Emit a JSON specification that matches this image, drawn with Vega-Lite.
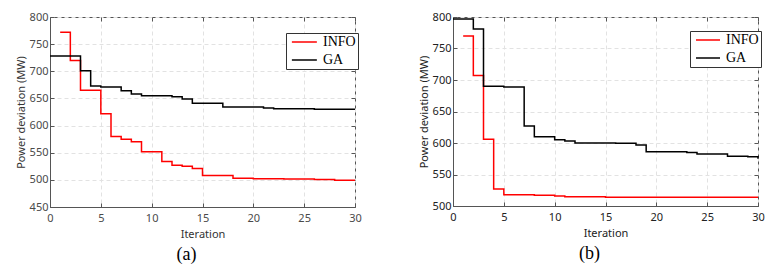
{
  "$schema": "https://vega.github.io/schema/vega-lite/v6.json",
  "background": "white",
  "padding": {"left": 14, "top": 10, "right": 5, "bottom": 5},
  "spacing": 55,
  "datasets": {
    "a": [
      {"iter": 1, "dev": 772, "alg": "INFO"},
      {"iter": 2, "dev": 720, "alg": "INFO"},
      {"iter": 3, "dev": 665, "alg": "INFO"},
      {"iter": 5, "dev": 622, "alg": "INFO"},
      {"iter": 6, "dev": 580, "alg": "INFO"},
      {"iter": 7, "dev": 575, "alg": "INFO"},
      {"iter": 8, "dev": 570, "alg": "INFO"},
      {"iter": 9, "dev": 552, "alg": "INFO"},
      {"iter": 11, "dev": 534, "alg": "INFO"},
      {"iter": 12, "dev": 527, "alg": "INFO"},
      {"iter": 13, "dev": 525, "alg": "INFO"},
      {"iter": 14, "dev": 521, "alg": "INFO"},
      {"iter": 15, "dev": 508, "alg": "INFO"},
      {"iter": 18, "dev": 503, "alg": "INFO"},
      {"iter": 20, "dev": 502, "alg": "INFO"},
      {"iter": 23, "dev": 501.5, "alg": "INFO"},
      {"iter": 26, "dev": 500.5, "alg": "INFO"},
      {"iter": 28, "dev": 499.5, "alg": "INFO"},
      {"iter": 30, "dev": 499.5, "alg": "INFO"},
      {"iter": 0, "dev": 728, "alg": "GA"},
      {"iter": 3, "dev": 701, "alg": "GA"},
      {"iter": 4, "dev": 673, "alg": "GA"},
      {"iter": 5, "dev": 671, "alg": "GA"},
      {"iter": 7, "dev": 664, "alg": "GA"},
      {"iter": 8, "dev": 658, "alg": "GA"},
      {"iter": 9, "dev": 655, "alg": "GA"},
      {"iter": 12, "dev": 653, "alg": "GA"},
      {"iter": 13, "dev": 649, "alg": "GA"},
      {"iter": 14, "dev": 641, "alg": "GA"},
      {"iter": 17, "dev": 634, "alg": "GA"},
      {"iter": 21, "dev": 632.5, "alg": "GA"},
      {"iter": 22, "dev": 631, "alg": "GA"},
      {"iter": 26, "dev": 630, "alg": "GA"},
      {"iter": 30, "dev": 630, "alg": "GA"}
    ],
    "b": [
      {"iter": 1, "dev": 770, "alg": "INFO"},
      {"iter": 2, "dev": 707, "alg": "INFO"},
      {"iter": 3, "dev": 606, "alg": "INFO"},
      {"iter": 4, "dev": 527, "alg": "INFO"},
      {"iter": 5, "dev": 518, "alg": "INFO"},
      {"iter": 8, "dev": 517, "alg": "INFO"},
      {"iter": 10, "dev": 516, "alg": "INFO"},
      {"iter": 11, "dev": 514.5, "alg": "INFO"},
      {"iter": 15, "dev": 514, "alg": "INFO"},
      {"iter": 30, "dev": 514, "alg": "INFO"},
      {"iter": 0, "dev": 797, "alg": "GA"},
      {"iter": 2, "dev": 781, "alg": "GA"},
      {"iter": 3, "dev": 690, "alg": "GA"},
      {"iter": 5, "dev": 689, "alg": "GA"},
      {"iter": 7, "dev": 627, "alg": "GA"},
      {"iter": 8, "dev": 610, "alg": "GA"},
      {"iter": 10, "dev": 605, "alg": "GA"},
      {"iter": 11, "dev": 603, "alg": "GA"},
      {"iter": 12, "dev": 600, "alg": "GA"},
      {"iter": 16, "dev": 599.5, "alg": "GA"},
      {"iter": 18, "dev": 597, "alg": "GA"},
      {"iter": 19, "dev": 586, "alg": "GA"},
      {"iter": 23, "dev": 585, "alg": "GA"},
      {"iter": 24, "dev": 582.5, "alg": "GA"},
      {"iter": 27, "dev": 579, "alg": "GA"},
      {"iter": 29, "dev": 578, "alg": "GA"},
      {"iter": 30, "dev": 575, "alg": "GA"}
    ]
  },
  "hconcat": [
    {
      "width": 305,
      "height": 190,
      "data": {"name": "a"},
      "title": {"text": "(a)", "orient": "bottom", "dx": -16, "offset": 7},
      "layer": [
        {
          "mark": {"type": "line", "interpolate": "step-after", "strokeWidth": 1.5},
          "encoding": {
            "x": {"field": "iter", "type": "quantitative", "scale": {"domain": [0, 30], "nice": false},
                  "axis": {"title": "Iteration", "values": [0, 5, 10, 15, 20, 25, 30], "tickSize": -4, "labelPadding": 9, "titlePadding": 5}},
            "y": {"field": "dev", "type": "quantitative", "scale": {"domain": [450, 800], "nice": false, "zero": false},
                  "axis": {"title": "Power deviation (MW)", "values": [450, 500, 550, 600, 650, 700, 750, 800], "tickSize": -4, "labelPadding": 6, "titlePadding": 3}},
            "color": {"field": "alg", "type": "nominal", "scale": {"domain": ["INFO", "GA"], "range": ["#ff0000", "#000000"]},
                      "legend": {"orient": "none", "legendX": 236, "legendY": 16, "title": null, "symbolType": "M-1,0H7", "symbolSize": 39, "symbolStrokeWidth": 1.5, "strokeColor": "#333", "fillColor": "white", "padding": 2, "labelFont": "Liberation Serif", "labelFontSize": 14, "labelColor": "#000", "labelOffset": 21, "rowPadding": 4, "labelExpr": "datum.label + '\u00a0\u00a0'"}}
          }
        },
        {
          "mark": {"type": "line", "opacity": 0},
          "encoding": {
            "x": {"field": "iter", "type": "quantitative", "axis": {"orient": "top", "labels": false, "grid": false, "title": null, "tickSize": -4, "domain": false, "values": [0, 5, 10, 15, 20, 25, 30]}},
            "y": {"field": "dev", "type": "quantitative", "axis": {"orient": "right", "labels": false, "grid": false, "title": null, "tickSize": -4, "domain": false, "values": [450, 500, 550, 600, 650, 700, 750, 800]}}
          }
        }
      ],
      "resolve": {"axis": {"x": "independent", "y": "independent"}}
    },
    {
      "width": 305,
      "height": 189,
      "data": {"name": "b"},
      "title": {"text": "(b)", "orient": "bottom", "dx": -16, "offset": 7},
      "layer": [
        {
          "mark": {"type": "line", "interpolate": "step-after", "strokeWidth": 1.5},
          "encoding": {
            "x": {"field": "iter", "type": "quantitative", "scale": {"domain": [0, 30], "nice": false},
                  "axis": {"title": "Iteration", "values": [0, 5, 10, 15, 20, 25, 30], "tickSize": -4, "labelPadding": 9, "titlePadding": 5, "labelColor": "#222", "titleColor": "#222"}},
            "y": {"field": "dev", "type": "quantitative", "scale": {"domain": [500, 800], "nice": false, "zero": false},
                  "axis": {"title": "Power deviation (MW)", "values": [500, 550, 600, 650, 700, 750, 800], "tickSize": -4, "labelPadding": 6, "titlePadding": 3, "labelColor": "#222", "titleColor": "#222"}},
            "color": {"field": "alg", "type": "nominal", "scale": {"domain": ["INFO", "GA"], "range": ["#ff0000", "#000000"]},
                      "legend": {"orient": "none", "legendX": 237, "legendY": 14, "title": null, "symbolType": "M-1,0H7", "symbolSize": 36, "symbolStrokeWidth": 1.5, "strokeColor": "#333", "fillColor": "white", "padding": 2, "labelFont": "Liberation Serif", "labelFontSize": 14, "labelColor": "#000", "labelOffset": 20, "rowPadding": 4}}
          }
        },
        {
          "mark": {"type": "line", "opacity": 0},
          "encoding": {
            "x": {"field": "iter", "type": "quantitative", "axis": {"orient": "top", "labels": false, "grid": false, "title": null, "tickSize": -4, "domain": false, "values": [0, 5, 10, 15, 20, 25, 30]}},
            "y": {"field": "dev", "type": "quantitative", "axis": {"orient": "right", "labels": false, "grid": false, "title": null, "tickSize": -4, "domain": false, "values": [500, 550, 600, 650, 700, 750, 800]}}
          }
        }
      ],
      "resolve": {"axis": {"x": "independent", "y": "independent"}}
    }
  ],
  "resolve": {"scale": {"color": "independent", "y": "independent"}, "legend": {"color": "independent"}},
  "config": {
    "font": "Noto Sans",
    "axis": {"labelFont": "Noto Sans", "labelFontSize": 11, "titleFont": "Noto Sans", "titleFontSize": 11, "titleFontWeight": "normal", "labelColor": "#4a4a4a", "titleColor": "#333", "domainColor": "#555", "tickColor": "#555", "gridColor": "#e2e2e2", "gridDash": [4, 3], "labelFlush": false},
    "view": {"stroke": "#555"},
    "title": {"font": "Liberation Serif", "fontSize": 18, "fontWeight": "normal", "color": "#000"}
  }
}
